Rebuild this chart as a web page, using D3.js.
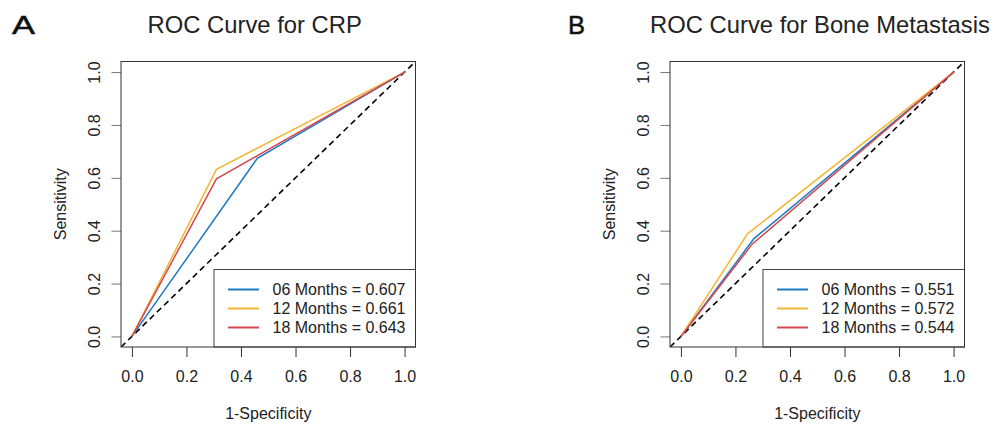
<!DOCTYPE html>
<html>
<head>
<meta charset="utf-8">
<script src="https://cdn.jsdelivr.net/npm/d3@7"></script>
<style>
  body { margin: 0; background: #fff; }
  svg { display: block; font-family: "Liberation Sans", Arial, Helvetica, sans-serif; }
</style>
</head>
<body>
<svg id="chart" width="997" height="429"></svg>
<script>
// ticks on both axes
var ticks = [0, 0.2, 0.4, 0.6, 0.8, 1.0];

// series names and colours
var seriesNames = ["06 Months", "12 Months", "18 Months"];
var seriesColors = ["#1f78c4", "#f4b632", "#d6484f"];

// panel A: CRP
var crpFpr = [[0, 0.46, 1], [0, 0.31, 1], [0, 0.31, 1]];
var crpTpr = [[0, 0.674, 1], [0, 0.632, 1], [0, 0.596, 1]];
var crpAuc = ["0.607", "0.661", "0.643"];

// panel B: Bone Metastasis
var boneFpr = [[0, 0.268, 1], [0, 0.244, 1], [0, 0.262, 1]];
var boneTpr = [[0, 0.370, 1], [0, 0.388, 1], [0, 0.350, 1]];
var boneAuc = ["0.551", "0.572", "0.544"];

var svg = d3.select("#chart");

function rocPanel(opt) {
  // plot box
  var x = d3.scaleLinear().domain([-0.04, 1.04]).range([opt.left, opt.left + 294.5]);
  var y = d3.scaleLinear().domain([-0.04, 1.04]).range([347, 61.5]);
  var g = svg.append("g");

  // panel letter
  g.append("text")
    .attr("transform", "translate(" + opt.letterX + ",33.5) scale(" + opt.letterScale + ",1)")
    .attr("font-size", 25.5)
    .attr("fill", "#111")
    .attr("stroke", "#111")
    .attr("stroke-width", 0.5)
    .text(opt.letter);

  // title
  g.append("text")
    .attr("x", opt.titleX)
    .attr("y", 33)
    .attr("text-anchor", "middle")
    .attr("font-size", 23.8)
    .attr("fill", "#222")
    .text(opt.title);

  // x as
  var xAxis = g.append("g")
    .attr("transform", "translate(0,347)")
    .call(d3.axisBottom(x).tickValues(ticks).tickSize(10).tickPadding(14)
      .tickFormat(d3.format(".1f")));
  xAxis.select(".domain").remove();
  xAxis.selectAll("line").attr("stroke", "#333");
  xAxis.selectAll("text").attr("font-size", 16).attr("fill", "#222")
    .attr("font-family", "Liberation Sans, Arial, sans-serif");

  // y as, labels draaien
  var yAxis = g.append("g")
    .attr("transform", "translate(" + opt.left + ",0)")
    .call(d3.axisLeft(y).tickValues(ticks).tickSize(9.5).tickFormat(d3.format(".1f")));
  yAxis.select(".domain").remove();
  yAxis.selectAll("line").attr("stroke", "#777");
  yAxis.selectAll("text")
    .attr("x", null).attr("dy", null)
    .attr("transform", "translate(-21,0) rotate(-90)")
    .attr("text-anchor", "middle")
    .attr("font-size", 16).attr("fill", "#222")
    .attr("font-family", "Liberation Sans, Arial, sans-serif");

  // axis titles
  g.append("text")
    .attr("x", (x.range()[0] + x.range()[1]) / 2)
    .attr("y", 419)
    .attr("text-anchor", "middle")
    .attr("font-size", 16)
    .attr("fill", "#222")
    .text("1-Specificity");

  g.append("text")
    .attr("transform", "translate(" + (opt.left - 55) + "," + ((y.range()[0] + y.range()[1]) / 2) + ") rotate(-90)")
    .attr("text-anchor", "middle")
    .attr("font-size", 16)
    .attr("fill", "#222")
    .text("Sensitivity");

  // clip to the box
  var clipId = "clip" + opt.letter;
  g.append("clipPath").attr("id", clipId)
    .append("rect")
    .attr("x", x.range()[0]).attr("y", y.range()[1])
    .attr("width", x.range()[1] - x.range()[0])
    .attr("height", y.range()[0] - y.range()[1]);

  var plot = g.append("g").attr("clip-path", "url(#" + clipId + ")");

  // diagonal
  plot.append("line")
    .attr("x1", x(-0.04)).attr("y1", y(-0.04))
    .attr("x2", x(1.04)).attr("y2", y(1.04))
    .attr("stroke", "#000")
    .attr("stroke-width", 1.6)
    .attr("stroke-dasharray", "6,4");

  var line = d3.line().x(function(d) { return x(d[0]); }).y(function(d) { return y(d[1]); });

  seriesNames.forEach(function(name, i) {
    var pts = opt.fpr[i].map(function(f, j) { return [f, opt.tpr[i][j]]; });
    plot.append("path")
      .attr("d", line(pts))
      .attr("fill", "none")
      .attr("stroke", seriesColors[i])
      .attr("stroke-width", 1.5);
  });

  // legend
  var lx = x.range()[1] - 201.5;
  var ly = 269.5;
  g.append("rect")
    .attr("x", lx).attr("y", ly)
    .attr("width", x.range()[1] - lx).attr("height", y.range()[0] - ly)
    .attr("fill", "#fff")
    .attr("stroke", "#444")
    .attr("stroke-width", 1);

  seriesNames.forEach(function(name, i) {
    var ry = ly + 20 + i * 19;
    g.append("line")
      .attr("x1", lx + 14).attr("x2", lx + 45)
      .attr("y1", ry).attr("y2", ry)
      .attr("stroke", seriesColors[i])
      .attr("stroke-width", 2);
    g.append("text")
      .attr("x", lx + 58.5)
      .attr("y", ry + 5.8)
      .attr("font-size", 16)
      .attr("fill", "#222")
      .text(name + " = " + opt.auc[i]);
  });

  // box
  g.append("rect")
    .attr("x", x.range()[0]).attr("y", y.range()[1])
    .attr("width", x.range()[1] - x.range()[0])
    .attr("height", y.range()[0] - y.range()[1])
    .attr("fill", "none")
    .attr("stroke", "#333")
    .attr("stroke-width", 1);
}

rocPanel({
  letter: "A", letterX: 12, letterScale: 1.35,
  title: "ROC Curve for CRP", titleX: 254.7,
  left: 121, fpr: crpFpr, tpr: crpTpr, auc: crpAuc
});

rocPanel({
  letter: "B", letterX: 568, letterScale: 1,
  title: "ROC Curve for Bone Metastasis", titleX: 820,
  left: 670, fpr: boneFpr, tpr: boneTpr, auc: boneAuc
});
</script>
</body>
</html>
